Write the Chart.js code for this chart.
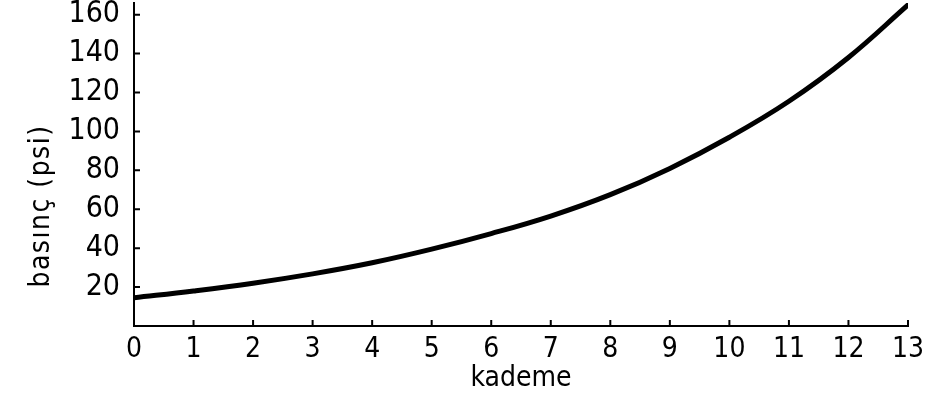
<!DOCTYPE html>
<html>
<head>
<meta charset="utf-8">
<script src="https://cdn.jsdelivr.net/npm/chart.js@4.4.1/dist/chart.umd.min.js"></script>
<style>
    html, body { margin: 0; padding: 0; background: #fff; }
    #wrap { width: 934px; height: 396px; position: relative; }
</style>
</head>
<body>
<div id="wrap"><canvas id="kademe-chart"></canvas></div>
<script>
// values
const stages    = [0, 1, 2, 3, 4, 5, 6, 7, 8, 9, 10, 11, 12, 13];
const pressures = [14.5, 18, 22, 26.8, 32.5, 39.5, 47.5, 56.5, 67.5, 81, 97, 115.5, 138, 165];
const yTicks    = [20, 40, 60, 80, 100, 120, 140, 160];
const xTitle    = 'kademe';
const yTitle    = 'basınç (psi)';

const fontFamily = '"Liberation Sans Narrow", "DejaVu Sans Condensed", "Liberation Sans", sans-serif';

// small inward tick marks + rotated y title, like the printed figure
const axisExtras = {
    id: 'axisExtras',
    afterDraw(chart) {
        const { ctx, chartArea, scales: { x, y } } = chart;
        ctx.save();
        ctx.strokeStyle = '#000';
        ctx.lineWidth = 2;
        ctx.beginPath();
        x.ticks.forEach(t => {
            if (t.value === 0) return;
            const px = x.getPixelForValue(t.value);
            ctx.moveTo(px, chartArea.bottom);
            ctx.lineTo(px, chartArea.bottom - 6);
        });
        y.ticks.forEach(t => {
            const py = y.getPixelForValue(t.value);
            ctx.moveTo(chartArea.left, py);
            ctx.lineTo(chartArea.left + 6, py);
        });
        ctx.stroke();

        ctx.translate(42, 206);
        ctx.rotate(-Math.PI / 2);
        ctx.fillStyle = '#000';
        ctx.font = '28px ' + fontFamily;
        ctx.letterSpacing = '1.5px';
        ctx.textAlign = 'center';
        ctx.textBaseline = 'middle';
        ctx.fillText(yTitle, 0, 0);
        ctx.restore();
    }
};

const ctx = document.getElementById('kademe-chart');

new Chart(ctx, {
    type: 'line',
    data: {
        datasets: [{
            data: stages.map((s, i) => ({ x: s, y: pressures[i] })),
            borderColor: '#000',
            borderWidth: 5,
            borderCapStyle: 'round',
            pointRadius: 0,
            tension: 0.4,
            fill: false
        }]
    },
    options: {
        responsive: true,
        maintainAspectRatio: false,
        animation: false,
        layout: { padding: { top: 3, right: 26, left: 0, bottom: 0 } },
        plugins: {
            legend: { display: false },
            tooltip: { enabled: false }
        },
        scales: {
            x: {
                type: 'linear',
                min: 0,
                max: 13,
                grid: { display: false, drawTicks: false },
                border: { display: true, color: '#000', width: 2 },
                ticks: {
                    color: '#000',
                    padding: 7,
                    autoSkip: false,
                    maxRotation: 0,
                    font: { size: 28, family: fontFamily }
                },
                title: {
                    display: true,
                    text: xTitle,
                    color: '#000',
                    font: { size: 28, family: fontFamily },
                    padding: { top: 0, bottom: 0 }
                },
                afterBuildTicks: s => { s.ticks = stages.map(v => ({ value: v })) },
                afterFit: s => { s.height = 70; s.paddingLeft = 0; s.paddingRight = 0 }
            },
            y: {
                type: 'linear',
                min: 0,
                max: 166,
                grid: { display: false, drawTicks: false },
                border: { display: true, color: '#000', width: 2 },
                ticks: {
                    color: '#000',
                    padding: 14,
                    font: { size: 30, family: fontFamily }
                },
                afterBuildTicks: s => { s.ticks = yTicks.map(v => ({ value: v })) },
                afterFit: s => { s.width = 134; s.paddingTop = 0; s.paddingBottom = 0 }
            }
        }
    },
    plugins: [axisExtras]
});
</script>
</body>
</html>
